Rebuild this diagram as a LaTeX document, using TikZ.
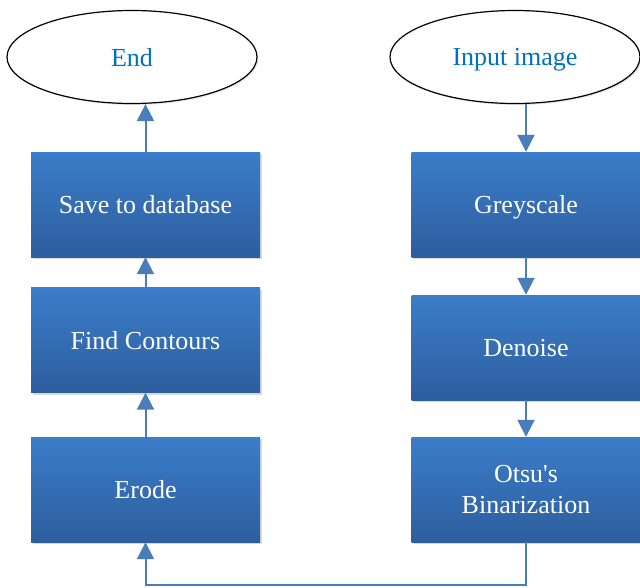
\documentclass[tikz,border=0pt]{standalone}
\usepackage{fontspec}
\setmainfont{Liberation Serif}
\usetikzlibrary{arrows.meta,shapes.geometric,shadows}

\definecolor{boxtop}{RGB}{59,125,201}
\definecolor{boxbot}{RGB}{45,94,158}
\definecolor{linkblue}{RGB}{74,126,187}
\definecolor{termtext}{RGB}{0,112,192}

\tikzset{
  stepbox/.style={rectangle, top color=boxtop, bottom color=boxbot,
    minimum width=229pt, minimum height=105pt, text=white,
    font=\fontsize{26}{31}\selectfont, align=center,
    drop shadow={opacity=0.3, shadow xshift=2pt, shadow yshift=-2pt}},
  oneline/.style={text depth=0pt},
  terminal/.style={ellipse, draw=black, line width=1.2pt, fill=white,
    minimum width=250pt, minimum height=93pt, text=termtext,
    font=\fontsize{26}{31}\selectfont, text depth=0pt,
    drop shadow={opacity=0.2, shadow xshift=1.5pt, shadow yshift=-1.5pt}},
  link/.style={draw=linkblue, line width=2pt,
    -{Triangle[length=17pt,width=17pt]}}
}

\begin{document}
\begin{tikzpicture}[x=1pt,y=-1pt]
  \useasboundingbox (0,0) rectangle (640,587);

  % start and end
  \node[terminal] (finish) at (132,57) {End};
  \node[terminal] (input)  at (515,57) {Input image};

  % left column, read upwards
  \node[stepbox,oneline] (save)    at (145.5,204.5) {Save to database};
  \node[stepbox,oneline] (contour) at (145.5,340)   {Find Contours};
  \node[stepbox,oneline] (erode)   at (145.5,489.5) {Erode};

  % right column, read downwards
  \node[stepbox,oneline] (grey)    at (526,204.5) {Greyscale};
  \node[stepbox,oneline] (denoise) at (526,347.5) {Denoise};
  \node[stepbox] (otsu) at (526,489.5) {Otsu\textquotesingle s\\Binarization};

  \draw[link] (input.south -| grey.north) -- (grey.north);
  \draw[link] (grey) -- (denoise);
  \draw[link] (denoise) -- (otsu);
  \draw[link] (otsu.south) -- ++(0,43) -| (erode.south);
  \draw[link] (erode) -- (contour);
  \draw[link] (contour) -- (save);
  \draw[link] (save.north) -- (save.north |- finish.south);
\end{tikzpicture}
\end{document}
